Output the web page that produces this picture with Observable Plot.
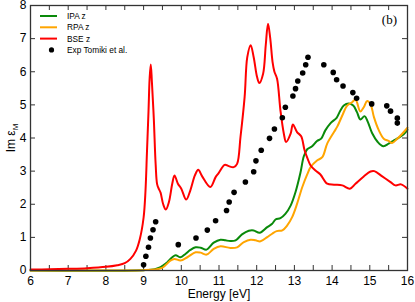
<!DOCTYPE html>
<html><head><meta charset="utf-8">
<script src="https://cdn.jsdelivr.net/npm/d3@7"></script>
<script src="https://cdn.jsdelivr.net/npm/@observablehq/plot@0.6"></script>
<style>body{margin:0;background:#fff}</style>
</head><body><div id="chart"></div>
<script>
// ---- data ----
const ipaE = [6.0,9.0,9.3,9.45,9.55,9.63,9.76,9.85,9.98,10.11,10.24,10.38,10.51,10.67,10.86,11.04,11.17,11.30,11.44,11.61,11.79,11.92,12.08,12.28,12.41,12.50,12.63,12.76,12.90,13.03,13.16,13.25,13.34,13.47,13.60,13.71,13.82,13.96,14.12,14.22,14.31,14.44,14.56,14.66,14.75,14.86,14.95,15.06,15.21,15.36,15.50,15.64,15.77,15.90,16.0];
const ipaV = [0.0,0.01,0.04,0.1,0.18,0.25,0.40,0.46,0.40,0.50,0.62,0.70,0.69,0.63,0.84,0.93,0.91,0.89,0.91,1.09,1.20,1.21,1.14,1.31,1.41,1.54,1.58,1.71,1.96,2.37,2.95,3.45,3.66,3.75,3.91,3.98,4.23,4.45,4.61,4.83,4.98,5.04,4.98,4.78,4.56,4.66,4.48,4.15,3.88,3.75,3.83,3.93,4.01,4.11,4.25];

const rpaE = [6.0,9.0,9.3,9.49,9.6,9.71,9.82,9.98,10.16,10.38,10.51,10.67,10.86,11.04,11.30,11.48,11.66,11.84,11.97,12.10,12.28,12.41,12.53,12.68,12.81,12.94,13.07,13.21,13.34,13.43,13.60,13.74,13.87,14.05,14.14,14.27,14.40,14.53,14.62,14.75,14.84,14.93,15.02,15.11,15.24,15.37,15.50,15.59,15.73,15.86,16.0];
const rpaV = [0.0,0.01,0.03,0.08,0.18,0.30,0.35,0.30,0.40,0.55,0.54,0.48,0.65,0.73,0.68,0.70,0.86,0.93,0.91,0.88,1.01,1.11,1.19,1.21,1.36,1.61,2.01,2.52,2.90,3.12,3.32,3.42,3.83,4.18,4.35,4.68,4.98,5.08,5.16,4.80,4.93,5.12,5.02,4.63,4.23,3.98,3.91,3.85,3.98,4.13,4.31];

const bseE = [6.0,6.5,7.0,7.5,8.0,8.3,8.5,8.65,8.8,8.9,9.0,9.05,9.09,9.13,9.16,9.19,9.22,9.27,9.32,9.36,9.41,9.45,9.52,9.59,9.67,9.76,9.82,9.91,10.0,10.13,10.24,10.36,10.45,10.55,10.77,10.91,10.99,11.15,11.26,11.39,11.48,11.57,11.68,11.75,11.84,11.92,12.01,12.07,12.17,12.24,12.30,12.36,12.42,12.47,12.54,12.63,12.72,12.78,12.90,12.96,13.07,13.18,13.27,13.36,13.43,13.56,13.69,13.87,14.05,14.27,14.47,14.62,14.84,15.02,15.12,15.33,15.55,15.68,15.83,16.0];
const bseV = [0.03,0.035,0.05,0.07,0.11,0.16,0.22,0.35,0.6,0.95,1.6,2.4,3.6,4.8,5.8,6.22,5.7,4.6,3.2,2.6,2.45,2.35,2.0,1.84,2.06,2.62,2.87,2.62,2.47,2.14,2.42,2.87,3.04,2.85,2.52,2.82,2.94,3.19,3.15,3.12,3.22,4.03,5.24,6.44,6.80,6.44,5.84,5.66,5.94,6.8,7.45,7.0,6.3,6.0,5.79,4.83,4.13,3.88,4.13,4.41,4.18,4.05,3.63,3.35,3.17,3.02,2.90,2.62,2.59,2.57,2.47,2.62,2.84,2.99,3.0,2.84,2.67,2.57,2.60,2.47];

const expE = [9.00,9.06,9.13,9.18,9.25,9.32,9.92,10.39,10.69,10.91,11.20,11.27,11.40,11.70,11.92,11.98,12.12,12.34,12.47,12.68,12.76,12.96,13.03,13.09,13.22,13.30,13.36,13.78,14.03,14.12,14.29,14.55,14.65,15.05,15.45,15.55,15.73,15.73];
const expV = [0.17,0.43,0.70,0.98,1.23,1.47,0.78,0.98,1.22,1.50,1.81,2.07,2.36,2.67,2.98,3.31,3.63,3.99,4.27,4.61,4.93,5.27,5.49,5.72,5.96,6.21,6.44,6.21,5.98,5.76,5.57,5.37,5.20,5.03,4.97,4.81,4.60,4.45];

const seriesNames = ["IPA z","RPA z","BSE z","Exp Tomiki et al."];
const seriesColors = ["#0a8a0a","#ffa500","#ff0000","#000000"];
const xTickLabels = [6,7,8,9,10,11,12,13,14,15,16];
const xMinorTicks = d3.range(6, 16.001, 0.5);
const yTickLabels = [0,1,2,3,4,5,6,7,8];

// ---- build tables ----
const toRows = (E, V) => E.map((e, i) => ({e, v: V[i]}));
const ipa = toRows(ipaE, ipaV);
const rpa = toRows(rpaE, rpaV);
const bse = toRows(bseE, bseV);
const exp = toRows(expE, expV);

const W = 415, H = 302, mL = 30, mR = 8, mT = 5, mB = 32;
const pw = W - mL - mR, ph = H - mT - mB;
const tick = 5;
const FONT = "'Liberation Sans', Arial, sans-serif";

const plot = Plot.plot({
  width: W, height: H,
  marginLeft: mL, marginRight: mR, marginTop: mT, marginBottom: mB,
  style: {fontFamily: FONT, fontSize: "12px", background: "#fff", color: "#000"},
  x: {domain: [6, 16]},
  y: {domain: [0, 8]},
  marks: [
    Plot.tickX(xMinorTicks, {x: d => d, insetTop: ph - tick, stroke: "#333"}),
    Plot.tickX(xMinorTicks, {x: d => d, insetBottom: ph - tick, stroke: "#333"}),
    Plot.tickY(yTickLabels, {y: d => d, insetRight: pw - tick, stroke: "#333"}),
    Plot.tickY(yTickLabels, {y: d => d, insetLeft: pw - tick, stroke: "#333"}),
    Plot.axisX(xTickLabels, {tickSize: 0, tickPadding: 6, label: null, fontSize: 12}),
    Plot.axisY(yTickLabels, {tickSize: 0, tickPadding: 4, label: null, fontSize: 12}),
    Plot.line(ipa, {x: "e", y: "v", stroke: seriesColors[0], strokeWidth: 2, curve: "catmull-rom"}),
    Plot.line(rpa, {x: "e", y: "v", stroke: seriesColors[1], strokeWidth: 2, curve: "catmull-rom"}),
    Plot.line(bse, {x: "e", y: "v", stroke: seriesColors[2], strokeWidth: 2, curve: "catmull-rom"}),
    Plot.dot(exp, {x: "e", y: "v", r: 2.8, fill: seriesColors[3], stroke: "none"}),
    Plot.frame({stroke: "#333", strokeWidth: 1.3})
  ]
});

const svg = d3.select(plot);
svg.append("text").attr("x", 219).attr("y", 297.5).attr("text-anchor", "middle")
  .style("font-family", FONT).style("font-size", "12px").text("Energy [eV]");
const yl = svg.append("text").attr("transform", "translate(15,138) rotate(-90)").attr("text-anchor", "middle")
  .style("font-family", FONT).style("font-size", "12px");
yl.append("tspan").text("Im ε");
yl.append("tspan").attr("dy", 3).style("font-size", "8px").text("M");
svg.append("text").attr("x", 397).attr("y", 24).attr("text-anchor", "end")
  .style("font-family", "'Liberation Serif', 'Times New Roman', serif").style("font-size", "13px").text("(b)");
const lg = svg.append("g").style("font-family", FONT).style("font-size", "8.3px").attr("text-anchor", "start");
seriesNames.forEach((name, i) => {
  const y = 16 + i * 11.3;
  if (i < 3) {
    lg.append("line").attr("x1", 40).attr("x2", 57).attr("y1", y).attr("y2", y)
      .attr("stroke", seriesColors[i]).attr("stroke-width", 2);
  } else {
    lg.append("circle").attr("cx", 51.5).attr("cy", y).attr("r", 2.6).attr("fill", seriesColors[i]);
  }
  lg.append("text").attr("x", 67).attr("y", y).attr("dy", "0.35em").attr("text-anchor", "start").text(name);
});

document.getElementById("chart").appendChild(plot);
</script>
</body></html>
